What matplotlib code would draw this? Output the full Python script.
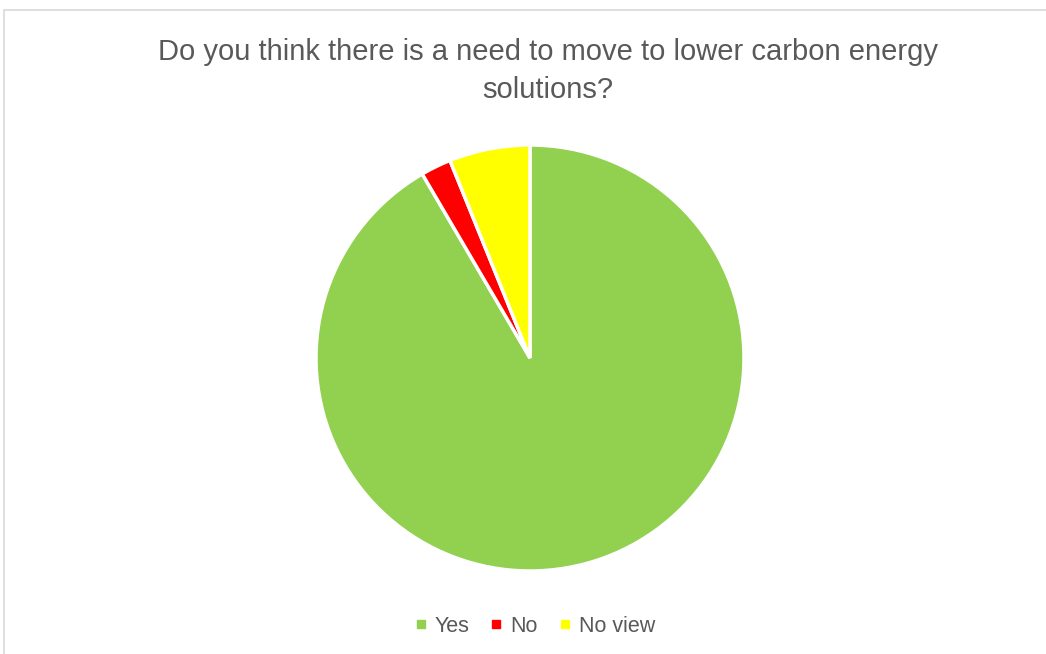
import matplotlib
matplotlib.use("Agg")
import matplotlib.pyplot as plt
from matplotlib.lines import Line2D
from matplotlib.patches import Rectangle

labels = ["Yes", "No", "No view"]
values = [91.6, 2.3, 6.1]
colors = ["#92D050", "#FF0000", "#FFFF00"]
title = "Do you think there is a need to move to lower carbon energy\nsolutions?"

plt.rcParams['font.family'] = ['Liberation Sans', 'DejaVu Sans']

fig = plt.figure(figsize=(10.46, 6.54), dpi=100)

# chart-area border (cut off at right and bottom)
fig.patches.append(Rectangle((4 / 1046, -0.1), 1.2, 1 - 10 / 654 + 0.1,
                             transform=fig.transFigure, fill=False,
                             edgecolor="#D9D9D9", linewidth=1.2))

ax = fig.add_axes([316 / 1046, 83 / 654, 428 / 1046, 426 / 654])
ax.pie(values, colors=colors, startangle=90, counterclock=False,
       wedgeprops=dict(edgecolor="white", linewidth=2.5))
ax.set_aspect('auto')
ax.set_xlim(-1, 1)
ax.set_ylim(-1, 1)
ax.axis('off')

fig.text(548 / 1046, 1 - 71 / 654, title, ha='center', va='center', fontsize=21,
         color="#595959", linespacing=1.45)

handles = [Line2D([], [], marker='s', linestyle='none', markersize=6,
                  markerfacecolor=c, markeredgecolor=c) for c in colors]
leg = fig.legend(handles, labels, loc='center', bbox_to_anchor=(535 / 1046, 1 - 626 / 654),
                 ncol=3, frameon=False, fontsize=15.5, handlelength=0.5,
                 handletextpad=0.4, columnspacing=1.0)
for t in leg.get_texts():
    t.set_color("#595959")

fig.savefig("out.png", dpi=100)
